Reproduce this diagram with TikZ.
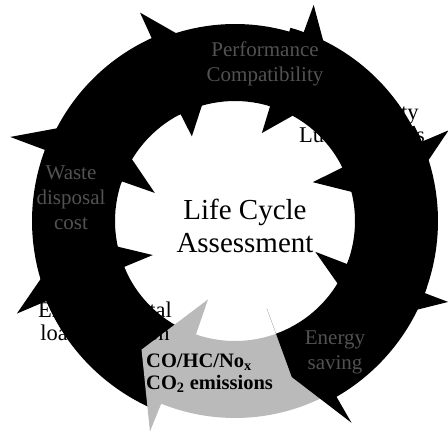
\documentclass[tikz,border=0pt]{standalone}
\usepackage{fontspec}
\setmainfont{Liberation Serif}
% #1 tail angle, #2 outer barb angle, #3 outer barb radius, #4 inner barb angle,
% #5 inner barb radius, #6 tip angle, #7 tip radius, #8 style, #9 outer radius
\newcommand{\ringarrowpath}[9]{%
  \path[#8] (#1:#9) arc[start angle=#1, end angle=#2, radius=#9]
    -- (#2:#3) -- (#6:#7) -- (#4:#5) -- (#4:120)
    arc[start angle=#4, end angle=#1, radius=120] -- cycle;}
\begin{document}
\begin{tikzpicture}[x=1pt,y=1pt,
  blackarrow/.style={fill=black},
  grayarrow/.style={fill=black!27},
  faint/.style={text=black!68, font=\fontsize{21}{25}\selectfont, align=center, inner sep=0pt},
  lbl/.style={text=black, font=\fontsize{22.5}{23}\selectfont, align=center, inner sep=0pt},
  lca/.style={text=black, font=\fontsize{29}{33}\selectfont, align=center, inner sep=0pt},
  emis/.style={text=black, font=\bfseries\fontsize{20.5}{22}\selectfont, align=left, inner sep=0pt}]
\useasboundingbox (0,0) rectangle (448,437);
\fill[white] (0,0) rectangle (448,437);
\node[lbl] (hq) at (362,314) {High quality\\Lubricant oils};
\begin{scope}[shift={(235,216)}]
  % black arrows, clockwise
  \ringarrowpath{162}{114.5}{229}{117}{95}{96}{165}{blackarrow}{201}
  \ringarrowpath{118}{70}{230}{73}{92}{52}{165}{blackarrow}{197}
  \ringarrowpath{74}{23}{232}{26.5}{87}{6}{165}{blackarrow}{201}
  \ringarrowpath{28}{-20.8}{228}{-21}{86}{-38}{165}{blackarrow}{203}
  \ringarrowpath{-114}{-157}{237}{-157.5}{89}{-175}{165}{blackarrow}{205}
  \ringarrowpath{-155}{-200.5}{240}{-199.3}{85}{-218}{165}{blackarrow}{203}
  % gray arrow
  \ringarrowpath{-58}{-112}{227}{-109}{83}{-126}{159}{grayarrow}{197}
  % black arrow whose head lies over the gray tail
  \ringarrowpath{-19}{-60}{233}{-70}{93}{-70}{166}{blackarrow}{203}
\end{scope}
\node[faint] (perf) at (265,373) {Performance\\Compatibility};
\node[faint] (waste) at (71,239) {Waste\\disposal\\cost};
\node[faint] (energy) at (335,85) {Energy\\saving};
\node[lbl] (env) at (105,116) {Environmental\\load reduction};
\node[lca] (lcanode) at (245,211) {Life Cycle\\Assessment};
\node[emis, anchor=west] (co) at (146,64) {CO/HC/No\textsubscript{x}\\CO\textsubscript{2} emissions};
\end{tikzpicture}
\end{document}
